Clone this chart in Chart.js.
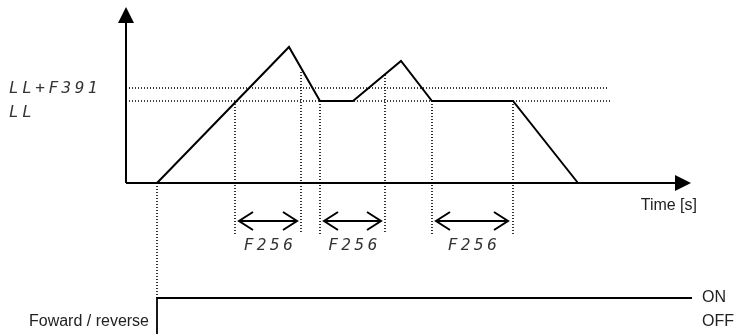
<!DOCTYPE html>
<html>
<head>
<meta charset="utf-8">
<script src="https://cdn.jsdelivr.net/npm/chart.js@4.4.1/dist/chart.umd.min.js"></script>
<style>
  html,body{margin:0;padding:0;background:#fff;}
  #wrap{width:734px;height:334px;position:relative;}
</style>
</head>
<body>
<div id="wrap"><canvas id="chart"></canvas></div>
<script>
/* ---- data (time / speed units, origin at the axes) ---- */
const speedTime = [31, 163, 194, 227, 275, 306, 387, 452];
const speedVal  = [0, 136, 82, 82, 122, 82, 82, 0];

const levelLL      = 82;
const levelLLF391  = 95;
const levelNames   = ['LL+F391', 'LL'];

const markerTime = [109, 175, 194, 259, 306, 387];
const markerTop  = [82, 111, 82, 108, 82, 82];
const markerBottom = -51;

const f256Start = [113, 198, 310];
const f256End   = [171, 255, 382];
const f256Level = -38;
const f256Name  = 'F256';

const runStart = 31;
const runEnd   = 566;
const onLevel  = -115;
const offLevel = -151;
const signalNames = ['ON', 'OFF'];
const signalTitle = 'Foward / reverse';

const axisTimeEnd  = 550;
const axisSpeedEnd = 161;
const timeTitle = 'Time [s]';

/* ---- datasets ---- */
const line = (pts, extra={}) => ({
  data: pts, showLine: true, pointRadius: 0, borderColor: '#000',
  borderWidth: 2, tension: 0, ...extra
});
const dottedH = { borderWidth: 1.4, borderDash: [1, 2], borderColor: '#000' };
const dottedV = { borderWidth: 1.6, borderDash: [1, 2], borderColor: '#000' };

const datasets = [
  line([{x:0,y:0},{x:axisTimeEnd,y:0}]),
  line([{x:0,y:0},{x:0,y:axisSpeedEnd}]),
  line(speedTime.map((t,i)=>({x:t,y:speedVal[i]}))),
  line([{x:3,y:levelLLF391},{x:483,y:levelLLF391}], dottedH),
  line([{x:3,y:levelLL},{x:486,y:levelLL}], dottedH),
  line([{x:runStart,y:0},{x:runStart,y:onLevel}], dottedV),
  line([{x:runStart,y:offLevel-1},{x:runStart,y:onLevel},{x:runEnd,y:onLevel}], {borderWidth:1.8}),
  ...markerTime.map((t,i)=>line([{x:t,y:markerTop[i]},{x:t,y:markerBottom}], dottedV)),
  ...f256Start.map((s,i)=>line([{x:s,y:f256Level},{x:f256End[i],y:f256Level}]))
];

/* ---- arrows & texts ---- */
const decor = {
  id: 'decor',
  afterDatasetsDraw(chart){
    const c = chart.ctx, xs = chart.scales.x, ys = chart.scales.y;
    const px = v => xs.getPixelForValue(v), py = v => ys.getPixelForValue(v);
    c.save();
    c.fillStyle = '#000';
    // y arrow
    c.beginPath();
    c.moveTo(px(0), py(axisSpeedEnd) - 15);
    c.lineTo(px(0) - 8, py(axisSpeedEnd) + 1);
    c.lineTo(px(0) + 8, py(axisSpeedEnd) + 1);
    c.closePath(); c.fill();
    // x arrow
    c.beginPath();
    c.moveTo(px(axisTimeEnd) + 15, py(0));
    c.lineTo(px(axisTimeEnd) - 1, py(0) - 8);
    c.lineTo(px(axisTimeEnd) - 1, py(0) + 8);
    c.closePath(); c.fill();
    // double-arrow heads
    c.strokeStyle = '#000'; c.lineWidth = 2;
    f256Start.forEach((s,i)=>{
      const a = px(s), b = px(f256End[i]), y = py(f256Level);
      c.beginPath();
      c.moveTo(a + 14, y - 9); c.lineTo(a, y); c.lineTo(a + 14, y + 9);
      c.moveTo(b - 14, y - 9); c.lineTo(b, y); c.lineTo(b - 14, y + 9);
      c.stroke();
    });
    // segment-style labels
    c.fillStyle = '#333';
    c.font = 'italic 16px "DejaVu Sans Mono"';
    c.letterSpacing = '3.5px';
    c.textBaseline = 'middle';
    c.textAlign = 'left';
    c.fillText(levelNames[0], 9, py(levelLLF391) + 1);
    c.fillText(levelNames[1], 9, py(levelLL) + 12);
    c.textAlign = 'center';
    f256Start.forEach((s,i)=>{
      c.fillText(f256Name, px((s + f256End[i]) / 2) + 2, py(f256Level) + 25);
    });
    // plain labels
    c.letterSpacing = '0px';
    c.fillStyle = '#222';
    c.font = '16px "Liberation Sans", Arial, sans-serif';
    c.textAlign = 'right';
    c.fillText(timeTitle, px(axisTimeEnd) + 21, py(0) + 23);
    c.fillText(signalTitle, px(runStart) - 8, py(offLevel) - 12);
    c.textAlign = 'left';
    c.fillText(signalNames[0], px(runEnd) + 10, py(onLevel));
    c.fillText(signalNames[1], px(runEnd) + 10, py(offLevel) - 12);
    c.restore();
  }
};

new Chart(document.getElementById('chart'), {
  type: 'scatter',
  data: { datasets },
  options: {
    responsive: true, maintainAspectRatio: false, animation: false,
    layout: { padding: 0 },
    scales: {
      x: { type: 'linear', min: -126, max: 608, display: false },
      y: { type: 'linear', min: -151, max: 183, display: false }
    },
    plugins: { legend: { display: false }, tooltip: { enabled: false } }
  },
  plugins: [decor]
});
</script>
</body>
</html>
